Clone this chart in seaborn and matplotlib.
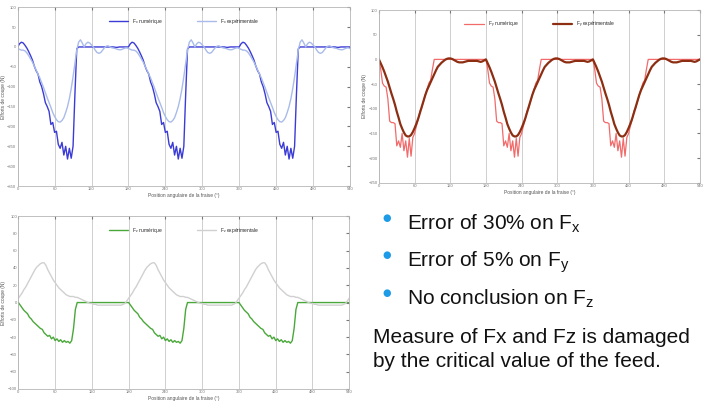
import numpy as np
import pandas as pd
import seaborn as sns
import matplotlib.pyplot as plt

# one period (0..177 deg, step 3), repeated 3 times
angle_step = 3
fx_num = [0, 8, 12, 10, 4, -3, -12, -22, -33, -48, -60, -68, -88, -100, -118, -140,
          -150, -162, -195, -190, -215, -212, -245, -255, -240, -272, -250, -282, -255, -280,
          -250, -120, -5, 0, 0, 0, 0, 0, 0, 0, 0, 0, 0, 0, 0,
          0, 0, 0, 0, 0, 0, 0, 0, -1, -1, 0, 0, 0, 0, 0]
fx_exp = [-4, -6, -8, -8, -10, -15, -22, -30, -38, -48, -58, -68, -78, -90, -102, -115,
          -128, -140, -152, -165, -175, -183, -188, -189, -185, -178, -165, -150, -130, -105,
          -75, -42, -8, 12, 18, 10, 0, 8, 12, 10, 5, 0, -8, -14, -16,
          -14, -8, -2, 2, 3, 0, -2, -3, -4, -6, -7, -7, -5, -3, -2]
fy_num = [0, -20, -48, -54, -56, -80, -125, -128, -128, -130, -175, -165, -178, -150, -185, -165,
          -198, -160, -196, -158, -150, -135, -122, -105, -98, -85, -72, -60, -48, -42,
          -20, 0, 0, 0, 0, 0, 0, 0, 0, 0, 0, 0, 0, 0, 0,
          0, 0, 0, 0, 0, 0, 0, 0, 0, 0, 0, 0, 0, 0, 0]
fy_exp = [0, -8, -16, -25, -35, -45, -57, -69, -80, -92, -106, -118, -131, -140, -148, -154,
          -156, -156, -153, -147, -139, -130, -120, -108, -96, -84, -72, -62, -54, -46,
          -38, -30, -22, -15, -11, -7, -4, -1, 1, 2, 2, 1, -1, -3, -5,
          -6, -6, -6, -5, -4, -3, -3, -3, -3, -3, -3, -4, -5, -4, -2]
fz_num = [0, -3, -6, -9, -11, -13, -17, -19, -22, -24, -26, -28, -30, -31, -35, -37,
          -39, -38, -42, -40, -44, -42, -45, -43, -46, -44, -46, -45, -47, -44,
          -30, -8, 0, 0, 0, 0, 0, 0, 0, 0, 0, 0, 0, 0, 0,
          0, 0, 0, 0, 0, 0, 0, 0, 0, 0, 0, 0, 0, 0, 0]
fz_exp = [5, 8, 11, 15, 18, 22, 26, 30, 34, 38, 41, 43, 45, 46, 46, 43,
          38, 34, 30, 26, 23, 20, 17, 15, 13, 11, 9, 8, 7, 7,
          7, 6, 6, 5, 4, 3, 2, 1, 0, -1, -1, -2, -2, -3, -3,
          -3, -3, -3, -3, -3, -3, -3, -3, -3, -3, -3, -3, -2, -1, 2]

x_ticks = [0, 60, 120, 180, 240, 300, 360, 420, 480, 540]
xlabel = "Position angulaire de la fraise (°)"
ylabel = "Efforts de coupe (N)"

panels = [
    # values, labels, colours, widths, ylim, yticks, axes rect
    (fx_num, fx_exp, ["F$_x$ numérique", "F$_x$ expérimentale"], ["#3b3bd6", "#a9bbea"], [1.0, 1.0],
     (-350, 100), list(range(-350, 101, 50)), [0.025, 0.536, 0.470, 0.446]),
    (fy_num, fy_exp, ["F$_y$ numérique", "F$_y$ expérimentale"], ["#f26a6a", "#8c2e12"], [0.9, 1.6],
     (-250, 100), list(range(-250, 101, 50)), [0.536, 0.544, 0.454, 0.431]),
    (fz_num, fz_exp, ["F$_z$ numérique", "F$_z$ expérimentale"], ["#4aa83a", "#d0d0d0"], [1.0, 1.0],
     (-100, 100), list(range(-100, 101, 20)), [0.026, 0.030, 0.468, 0.431]),
]


def full_period(vals):
    ang = np.arange(len(vals)) * angle_step
    xs = np.concatenate([ang + k * 180 for k in range(3)] + [[540]])
    ys = np.concatenate([vals] * 3 + [[vals[0]]])
    return xs, ys


sns.set_style("white")
plt.rcParams['font.family'] = ['Liberation Sans', 'DejaVu Sans']
plt.rcParams['mathtext.default'] = 'regular'

fig = plt.figure(figsize=(7.07, 4.01), dpi=100)

for num, exp, labels, colors, widths, ylim, yticks, rect in panels:
    ax = fig.add_axes(rect)
    frames = []
    for vals, lab in zip([num, exp], labels):
        xs, ys = full_period(vals)
        frames.append(pd.DataFrame({'angle': xs, 'force': ys, 'serie': lab}))
    df = pd.concat(frames)
    for lab, col, lw in zip(labels, colors, widths):
        sub = df[df['serie'] == lab]
        sns.lineplot(data=sub, x='angle', y='force', color=col, linewidth=lw,
                     label=lab, ax=ax, estimator=None, sort=False)
    ax.set_xlim(0, 540)
    ax.set_ylim(*ylim)
    ax.set_xticks(x_ticks)
    ax.set_yticks(yticks)
    ax.tick_params(labelsize=3, colors='#777777', length=2, direction='in',
                   pad=1, top=True, right=True)
    ax.xaxis.grid(True, color='#c8c8c8', linewidth=0.6)
    ax.yaxis.grid(False)
    for s in ax.spines.values():
        s.set_color('#b5b5b5')
        s.set_linewidth(0.6)
    ax.set_xlabel(xlabel, fontsize=3.5, color='#555555', labelpad=1)
    ax.set_ylabel(ylabel, fontsize=3.5, color='#555555', labelpad=1)
    ax.legend(loc='upper center', ncol=2, frameon=False, fontsize=3.5,
              handlelength=4, columnspacing=7, bbox_to_anchor=(0.5, 0.97))

bullet_color = '#1e9be6'
bullets = ["Error of 30% on F$_x$", "Error of 5% on F$_y$", "No conclusion on F$_z$"]
bullet_y = [0.426, 0.334, 0.239]
for txt, y in zip(bullets, bullet_y):
    fig.text(0.547, y + 0.03, "●", fontsize=7, color=bullet_color, ha='center', va='center',
             family=['DejaVu Sans'])
    fig.text(0.576, y, txt, fontsize=15, color='#111111', va='baseline')

fig.text(0.528, 0.145, "Measure of Fx and Fz is damaged", fontsize=15, color='#111111', va='baseline')
fig.text(0.528, 0.085, "by the critical value of the feed.", fontsize=15, color='#111111', va='baseline')

fig.savefig('out.png', dpi=100)
